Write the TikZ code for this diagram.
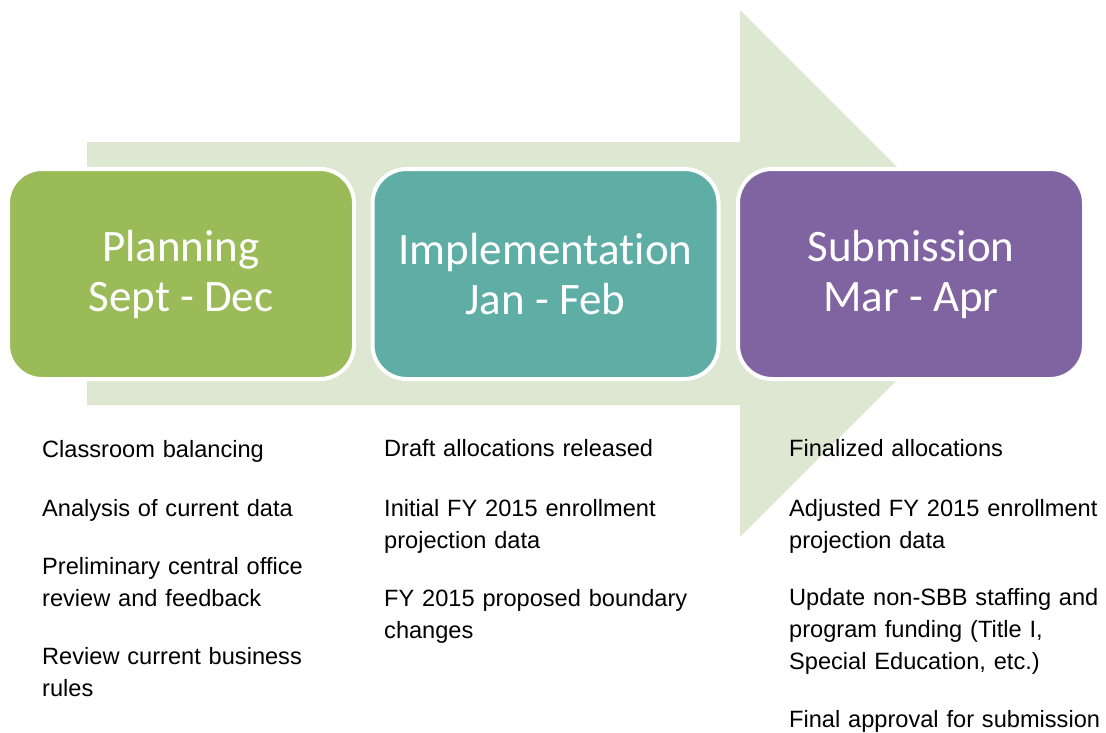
\documentclass[tikz,border=0pt]{standalone}
\usepackage{fontspec}
\setmainfont{Liberation Sans}
\newfontfamily\boxfont[Ligatures=NoCommon]{Carlito}
\usetikzlibrary{backgrounds}
\definecolor{xgreen}{RGB}{155,187,89}
\definecolor{xteal}{RGB}{95,174,166}
\definecolor{xpurple}{RGB}{128,100,162}
\definecolor{xpale}{RGB}{222,231,209}
\tikzset{
  phase/.style={draw=white, line width=4pt, rectangle, rounded corners=34pt,
    minimum width=346pt, minimum height=210pt, align=center, text=white,
    font=\boxfont\fontsize{45}{50}\selectfont},
  task/.style={anchor=base west, align=left, inner sep=0pt, text width=320pt,
    font=\fontsize{23.6}{32}\selectfont}
}

\begin{document}
\begin{tikzpicture}[x=1pt, y=-1pt]
\def \r {274}
\def \a {42}
\def \b {384}
\def \c {789}
\useasboundingbox (0,0) rectangle (1106,732);
\node[phase, fill=xgreen] at (181, \r) (plan) {Planning\\Sept - Dec};
\node[phase, fill=xteal] at (545.5, \r) (impl) {Implementa\kern0pt tion\\Jan - Feb};
\node[phase, fill=xpurple] at (911, \r) (subm) {Submission\\Mar - Apr};
\begin{scope}[on background layer]
\fill[xpale] (87,142) -- (740,142) -- (740,10) -- (1003.5,273.5) -- (740,537)
  -- (740,405) -- (87,405) -- cycle;
\end{scope}
\node[task] at (\a, 457) (plan1) {Classroom balancing};
\node[task] at (\a, 516) (plan2) {Analysis of current data};
\node[task] at (\a, 574) (plan3) {Preliminary central office\\review and feedback};
\node[task] at (\a, 664) (plan4) {Review current business\\rules};
\node[task] at (\b, 456) (impl1) {Draft allocations released};
\node[task] at (\b, 516) (impl2) {Initial FY 2015 enrollment\\projection data};
\node[task] at (\b, 606) (impl3) {FY 2015 proposed boundary\\changes};
\node[task] at (\c, 456) (subm1) {Finalized allocations};
\node[task] at (\c, 516) (subm2) {Adjusted FY 2015 enrollment\\projection data};
\node[task] at (\c, 605) (subm3) {Update non-SBB staffing and\\program funding (Title I,\\Special Education, etc.)};
\node[task] at (\c, 727) (subm4) {Final approval for submission};
\end{tikzpicture}
\end{document}
